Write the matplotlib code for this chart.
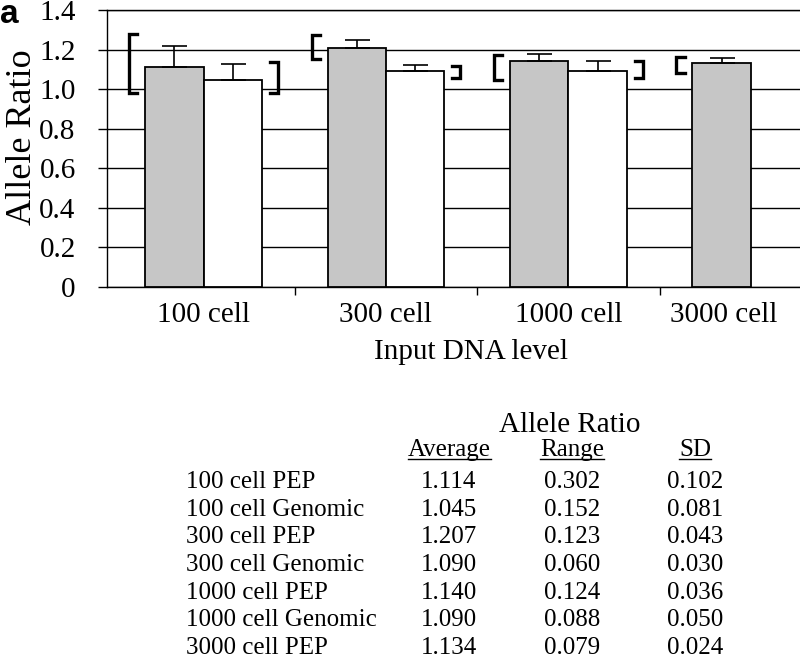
import matplotlib.pyplot as plt
import numpy as np

plt.rcParams['font.family'] = ['Liberation Serif', 'DejaVu Serif']

groups = ['100 cell', '300 cell', '1000 cell', '3000 cell']

# PEP (grey) bars, 4 groups
pep_avg = [1.114, 1.207, 1.140, 1.134]
pep_sd = [0.102, 0.043, 0.036, 0.024]
pep_lo = [0.979, 1.150, 1.047, 1.084]
pep_hi = [1.281, 1.273, 1.171, 1.163]

# Genomic (white) bars, no 3000 cell sample
gen_avg = [1.045, 1.090, 1.090]
gen_sd = [0.081, 0.030, 0.050]
gen_lo = [0.983, 1.055, 1.054]
gen_hi = [1.135, 1.115, 1.142]

row_names = ['100 cell PEP', '100 cell Genomic', '300 cell PEP', '300 cell Genomic',
             '1000 cell PEP', '1000 cell Genomic', '3000 cell PEP']
tab_avg = [1.114, 1.045, 1.207, 1.090, 1.140, 1.090, 1.134]
tab_range = [0.302, 0.152, 0.123, 0.060, 0.124, 0.088, 0.079]
tab_sd = [0.102, 0.081, 0.043, 0.030, 0.036, 0.050, 0.024]

W, H = 800, 661


def px(x, y):
    return x / W, 1 - y / H


fig = plt.figure(figsize=(W / 100, H / 100), dpi=100)
ax = fig.add_axes([107 / W, 1 - 287 / H, 735 / W, 277 / H])

x = np.arange(len(groups))
bw = 0.32
xp = x - bw / 2
xg = x[:len(gen_avg)] + bw / 2

ax.bar(xp, pep_avg, bw, color='#c6c6c6', edgecolor='black', linewidth=1.3, zorder=3)
ax.bar(xg, gen_avg, bw, color='white', edgecolor='black', linewidth=1.3, zorder=3)

zeros_p = np.zeros(len(pep_sd))
zeros_g = np.zeros(len(gen_sd))
ax.errorbar(xp, pep_avg, yerr=[zeros_p, pep_sd], fmt='none', ecolor='black',
            elinewidth=1.2, capsize=9, capthick=1.2, zorder=4)
ax.errorbar(xg, gen_avg, yerr=[zeros_g, gen_sd], fmt='none', ecolor='black',
            elinewidth=1.2, capsize=9, capthick=1.2, zorder=4)

# range brackets: "[" left of PEP bars, "]" right of Genomic bars
gap, serif = 0.088, 0.045
for xc, lo, hi in zip(xp, pep_lo, pep_hi):
    xv = xc - bw / 2 - gap
    ax.plot([xv + serif, xv, xv, xv + serif], [lo, lo, hi, hi], color='black',
            lw=2.4, solid_joinstyle='miter', zorder=4)
for xc, lo, hi in zip(xg, gen_lo, gen_hi):
    xv = xc + bw / 2 + gap
    ax.plot([xv - serif, xv, xv, xv - serif], [lo, lo, hi, hi], color='black',
            lw=2.4, solid_joinstyle='miter', zorder=4)

ax.set_xlim(-0.529, 3.5)
ax.set_ylim(0, 1.4)
yt = np.arange(0, 1.41, 0.2)
ax.set_yticks(yt)
ax.set_yticklabels(['0'] + ['%.1f' % v for v in yt[1:]])
ax.yaxis.grid(True, color='black', lw=1.0, zorder=0)
ax.set_axisbelow(True)

# group labels at centres, last one pulled in to stay on the page
label_x = x.astype(float)
label_x[-1] -= 0.15
ax.set_xticks(label_x)
ax.set_xticklabels(groups)
ax.set_xticks(np.arange(-0.5, 3.5, 1.0)[1:], minor=True)
ax.tick_params(axis='x', which='major', length=0, pad=11, labelsize=21)
ax.tick_params(axis='x', which='minor', length=6, width=1.0, direction='out')
ax.tick_params(axis='y', length=6.5, width=1.0, pad=16, labelsize=21)

for s in ['left', 'bottom', 'top']:
    ax.spines[s].set_linewidth(1.0)
ax.spines['right'].set_visible(False)

ax.set_xlabel('Input DNA level', fontsize=21)
ax.xaxis.set_label_coords((471 - 107) / 735, (287 - 339) / 277)

fig.text(*px(31, 137), 'Allele Ratio', rotation=90, rotation_mode='anchor',
         ha='center', va='baseline', fontsize=26)
fig.text(*px(0, 23), 'a', family='Liberation Sans', weight='bold', fontsize=24,
         ha='left', va='baseline')

# summary table
fs = 18
fig.text(*px(570, 432), 'Allele Ratio', ha='center', va='baseline', fontsize=21)
col_x = [449, 572, 695]
renderer = fig.canvas.get_renderer()
for cx, name in zip(col_x, ['Average', 'Range', 'SD']):
    t = fig.text(*px(cx, 456), name, ha='center', va='baseline', fontsize=fs)
    bb = t.get_window_extent(renderer)
    uy = 1 - 459 / H
    fig.add_artist(plt.Line2D([bb.x0 / W, bb.x1 / W], [uy, uy],
                              transform=fig.transFigure, color='black', lw=1.0))
for i, name in enumerate(row_names):
    yb = 488 + 27.7 * i
    fig.text(*px(186, yb), name, ha='left', va='baseline', fontsize=fs)
    for cx, v in zip(col_x, [tab_avg[i], tab_range[i], tab_sd[i]]):
        fig.text(*px(cx, yb), '%.3f' % v, ha='center', va='baseline', fontsize=fs)

fig.savefig('out.png', dpi=100)
